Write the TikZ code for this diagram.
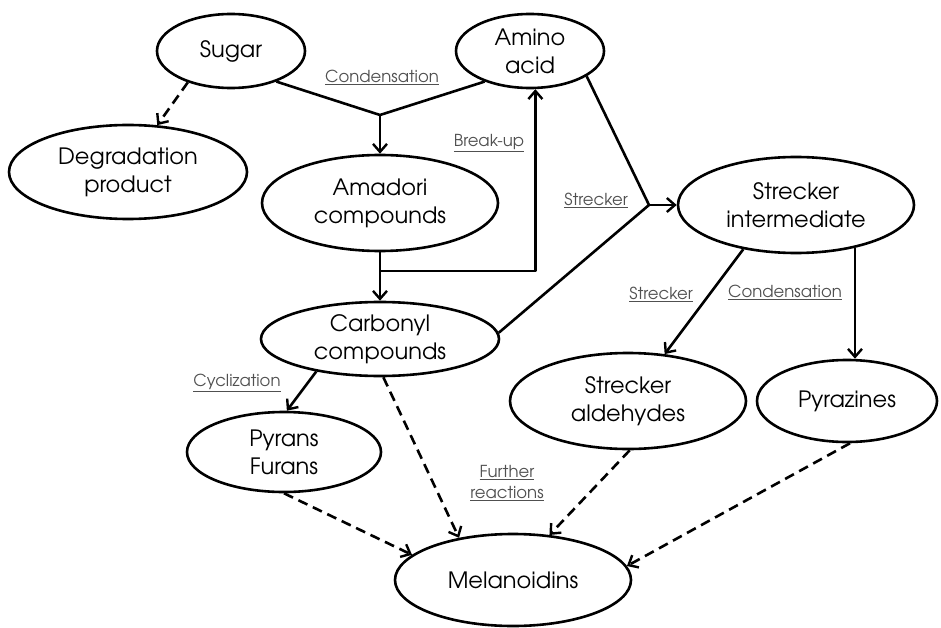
\documentclass[tikz,border=0pt]{standalone}
\usepackage{fontspec}
\setmainfont{TeX Gyre Adventor}
\usetikzlibrary{shapes.geometric,arrows.meta,calc}
\definecolor{labelgray}{HTML}{505050}
\tikzset{
  ell/.style={draw, line width=2.6pt, ellipse, inner sep=0pt, align=center,
    font=\fontsize{22.5}{28}\selectfont},
  lbl/.style={text=labelgray, align=center, inner sep=1pt,
    font=\fontsize{16.5}{21}\selectfont},
  conn/.style={line width=2.6pt, line join=round},
  arr/.style={conn, -{Straight Barb[length=8pt,width=14pt,line width=2.4pt]}},
  dasharr/.style={arr, dash pattern=on 10pt off 6pt}
}
\begin{document}
\begin{tikzpicture}[x=1pt,y=-1pt]
\useasboundingbox (0,0) rectangle (941,628);
% nodes
\node[ell, minimum width=148pt, minimum height=74pt] (sugar) at (231,51) {Sugar};
\node[ell, minimum width=148pt, minimum height=74pt] (amino) at (530,51) {Amino\\acid};
\node[ell, minimum width=238pt, minimum height=94pt] (deg) at (128,172) {Degradation\\product};
\node[ell, minimum width=236pt, minimum height=96pt] (amadori) at (380,203) {Amadori\\compounds};
\node[ell, minimum width=238pt, minimum height=74pt] (carbonyl) at (380,339) {Carbonyl\\compounds};
\node[ell, minimum width=236pt, minimum height=96pt] (si) at (796,205) {Strecker\\intermediate};
\node[ell, minimum width=236pt, minimum height=96pt] (ald) at (628,401) {Strecker\\aldehydes};
\node[ell, minimum width=180pt, minimum height=82pt] (pyz) at (847,401) {Pyrazines};
\node[ell, minimum width=194pt, minimum height=80pt] (pyr) at (284,452) {Pyrans\\Furans};
\node[ell, minimum width=236pt, minimum height=92pt] (mel) at (513,580) {Melanoidins};
% labels
\node[lbl] (l1) at (382,77) {\underline{Condensation}};
\node[lbl] (l2) at (489,143) {\underline{Break-up}};
\node[lbl] (l3) at (596,200) {\underline{Strecker}};
\node[lbl] (l4) at (661,294) {\underline{Strecker}};
\node[lbl] (l5) at (785,292) {\underline{Condensation}};
\node[lbl] (l6) at (237,383) {\underline{Cyclization}};
\node[lbl] (l7) at (507,483) {\underline{Further}\\\underline{reactions}};
% connectors
\coordinate (J1) at (380,115);
\coordinate (B1) at (380,271);
\coordinate (J2) at (649,205);
\draw[dasharr] (sugar.216) -- (deg.58);
\draw[conn] (sugar.-34) -- (J1) -- (amino.214);
\draw[arr] (J1) -- (amadori.north);
\draw[arr] (amadori.south) -- (carbonyl.north);
\draw[arr] (B1) -| (amino.-82);
\draw[conn] (amino.-24) -- (J2) -- (carbonyl.3);
\draw[arr] (J2) -- (si.west);
\draw[arr] (si.220) -- (ald.52);
\draw[arr] (si.-36) -- (si.-36 |- pyz.north);
\draw[arr] (carbonyl.207) -- (pyr.86);
\draw[dasharr] (carbonyl.-85) -- (mel.142);
\draw[dasharr] (pyr.south) -- (mel.166);
\draw[dasharr] (ald.-88) -- (mel.51);
\draw[dasharr] (pyz.-86) -- (mel.7.5);
\end{tikzpicture}
\end{document}
